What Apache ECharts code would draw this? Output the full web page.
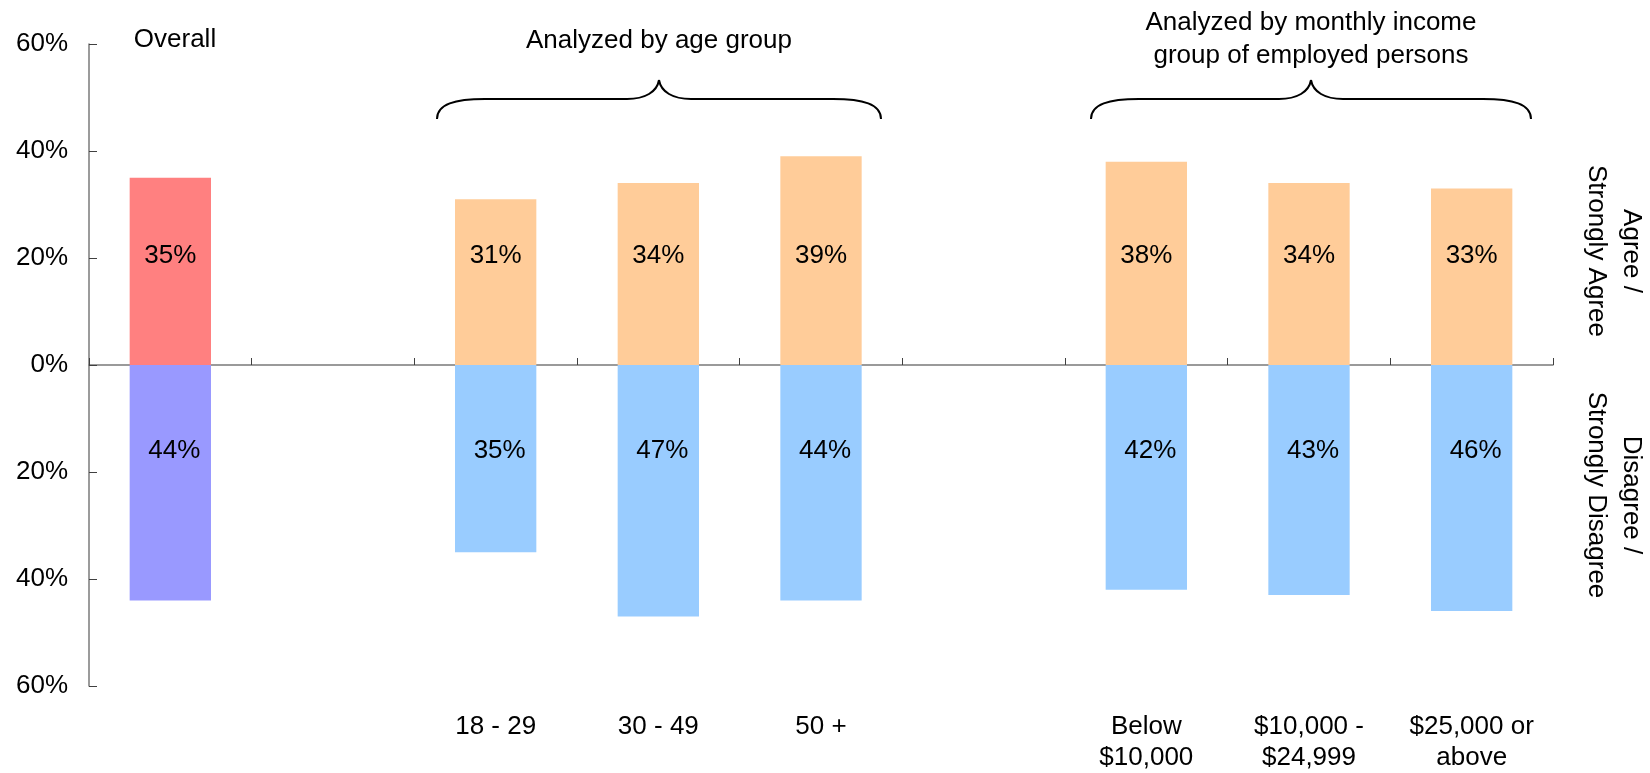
<!DOCTYPE html>
<html>
<head>
<meta charset="utf-8">
<script src="https://cdn.jsdelivr.net/npm/echarts@6/dist/echarts.min.js"></script>
<style>
  html, body { margin: 0; padding: 0; background: #ffffff; }
  #chart { width: 1650px; height: 773px; }
</style>
</head>
<body>
<div id="chart"></div>
<script>
// Survey results: share agreeing vs. disagreeing, overall and by subgroup
const categories = ['', ' ', '18 - 29', '30 - 49', '50 +', '  ', 'Below\n$10,000', '$10,000 -\n$24,999', '$25,000 or\nabove'];
const agree    = [35, null, 31, 34, 39, null, 38, 34, 33];
const disagree = [44, null, 35, 47, 44, null, 42, 43, 46];
const groupTitles = ['Overall', 'Analyzed by age group', 'Analyzed by monthly income\ngroup of employed persons'];
const sideTitles = ['Agree /\nStrongly Agree', 'Disagree /\nStrongly Disagree'];

const FONT = '"Liberation Sans", Arial, sans-serif';
const AGREE_OVERALL = '#FF8080', DISAGREE_OVERALL = '#9999FF';
const AGREE_GROUP = '#FFCC99', DISAGREE_GROUP = '#99CCFF';

// Curly brace spanning x0..x1 with its point at tip, built from curves and lines
function brace(x0, x1, tip, yEnd, yLine, yTip) {
  const st = { stroke: '#000', lineWidth: 2, fill: null };
  const curve = (a, b, c, d) => ({
    type: 'bezierCurve',
    shape: { x1: a[0], y1: a[1], cpx1: b[0], cpy1: b[1], cpx2: c[0], cpy2: c[1], x2: d[0], y2: d[1] },
    style: st
  });
  const line = (a, b) => ({ type: 'line', shape: { x1: a[0], y1: a[1], x2: b[0], y2: b[1] }, style: st });
  return {
    type: 'group',
    children: [
      curve([x0, yEnd], [x0, yLine + 5], [x0 + 18, yLine], [x0 + 48, yLine]),
      line([x0 + 48, yLine], [tip - 32, yLine]),
      curve([tip - 32, yLine], [tip - 14, yLine], [tip - 2, yLine - 7], [tip, yTip]),
      curve([tip, yTip], [tip + 2, yLine - 7], [tip + 14, yLine], [tip + 32, yLine]),
      line([tip + 32, yLine], [x1 - 48, yLine]),
      curve([x1 - 48, yLine], [x1 - 18, yLine], [x1, yLine + 5], [x1, yEnd])
    ]
  };
}

const chart = echarts.init(document.getElementById('chart'), null, { renderer: 'canvas' });

const option = {
  animation: false,
  backgroundColor: '#ffffff',
  grid: { left: 89, right: 97, top: 44, bottom: 86, containLabel: false },
  xAxis: [
    {
      type: 'category',
      data: categories,
      position: 'bottom',
      boundaryGap: true,
      axisLine: { show: true, onZero: true, lineStyle: { color: '#7a7a7a', width: 1.5 } },
      axisTick: { show: true, inside: true, length: 7, alignWithLabel: false, lineStyle: { color: '#404040', width: 1 } },
      axisLabel: { show: false },
      splitLine: { show: false }
    },
    {
      type: 'category',
      data: categories,
      position: 'bottom',
      boundaryGap: true,
      axisLine: { show: false, onZero: false },
      axisTick: { show: false },
      axisLabel: { show: true, interval: 0, margin: 25, color: '#000', fontFamily: FONT, fontSize: 26, lineHeight: 31, align: 'center' },
      splitLine: { show: false }
    }
  ],
  yAxis: {
    type: 'value',
    min: -60, max: 60, interval: 20,
    axisLine: { show: true, lineStyle: { color: '#7a7a7a', width: 1.5 } },
    axisTick: { show: true, inside: true, length: 8, lineStyle: { color: '#404040', width: 1 } },
    axisLabel: { margin: 21, color: '#000', fontFamily: FONT, fontSize: 26, padding: [5, 0, 0, 0], formatter: v => Math.abs(v) + '%' },
    splitLine: { show: false }
  },
  series: [
    {
      name: 'Agree / Strongly Agree',
      type: 'bar',
      xAxisIndex: 0,
      barWidth: '50%',
      barGap: '-100%',
      data: agree,
      itemStyle: { color: p => p.dataIndex === 0 ? AGREE_OVERALL : AGREE_GROUP },
      label: {
        show: true, position: 'insideBottom', distance: 96,
        color: '#000', fontFamily: FONT, fontSize: 26,
        formatter: p => Math.abs(p.value) + '%'
      }
    },
    {
      name: 'Disagree / Strongly Disagree',
      type: 'bar',
      xAxisIndex: 0,
      barWidth: '50%',
      barGap: '-100%',
      data: disagree.map(v => v == null ? null : -v),
      itemStyle: { color: p => p.dataIndex === 0 ? DISAGREE_OVERALL : DISAGREE_GROUP },
      label: {
        show: true, position: 'insideTop', distance: 73, offset: [4, 0],
        color: '#000', fontFamily: FONT, fontSize: 26,
        formatter: p => Math.abs(p.value) + '%'
      }
    }
  ],
  graphic: [
    { type: 'text', x: 175, y: 40, style: { text: groupTitles[0], fill: '#000', font: '26px ' + FONT, textAlign: 'center', textVerticalAlign: 'middle' } },
    { type: 'text', x: 659, y: 41, style: { text: groupTitles[1], fill: '#000', font: '26px ' + FONT, textAlign: 'center', textVerticalAlign: 'middle' } },
    { type: 'text', x: 1311, y: 39, style: { text: groupTitles[2], fill: '#000', font: '26px ' + FONT, lineHeight: 33, textAlign: 'center', textVerticalAlign: 'middle' } },
    brace(437, 881, 659, 119, 99, 80),
    brace(1091, 1531, 1311, 119, 99, 80),
    { type: 'text', x: 1614, y: 251, rotation: -Math.PI / 2, style: { text: sideTitles[0], fill: '#000', font: '26px ' + FONT, lineHeight: 35, textAlign: 'center', textVerticalAlign: 'middle' } },
    { type: 'text', x: 1614, y: 495, rotation: -Math.PI / 2, style: { text: sideTitles[1], fill: '#000', font: '26px ' + FONT, lineHeight: 35, textAlign: 'center', textVerticalAlign: 'middle' } }
  ]
};

chart.setOption(option);
</script>
</body>
</html>
